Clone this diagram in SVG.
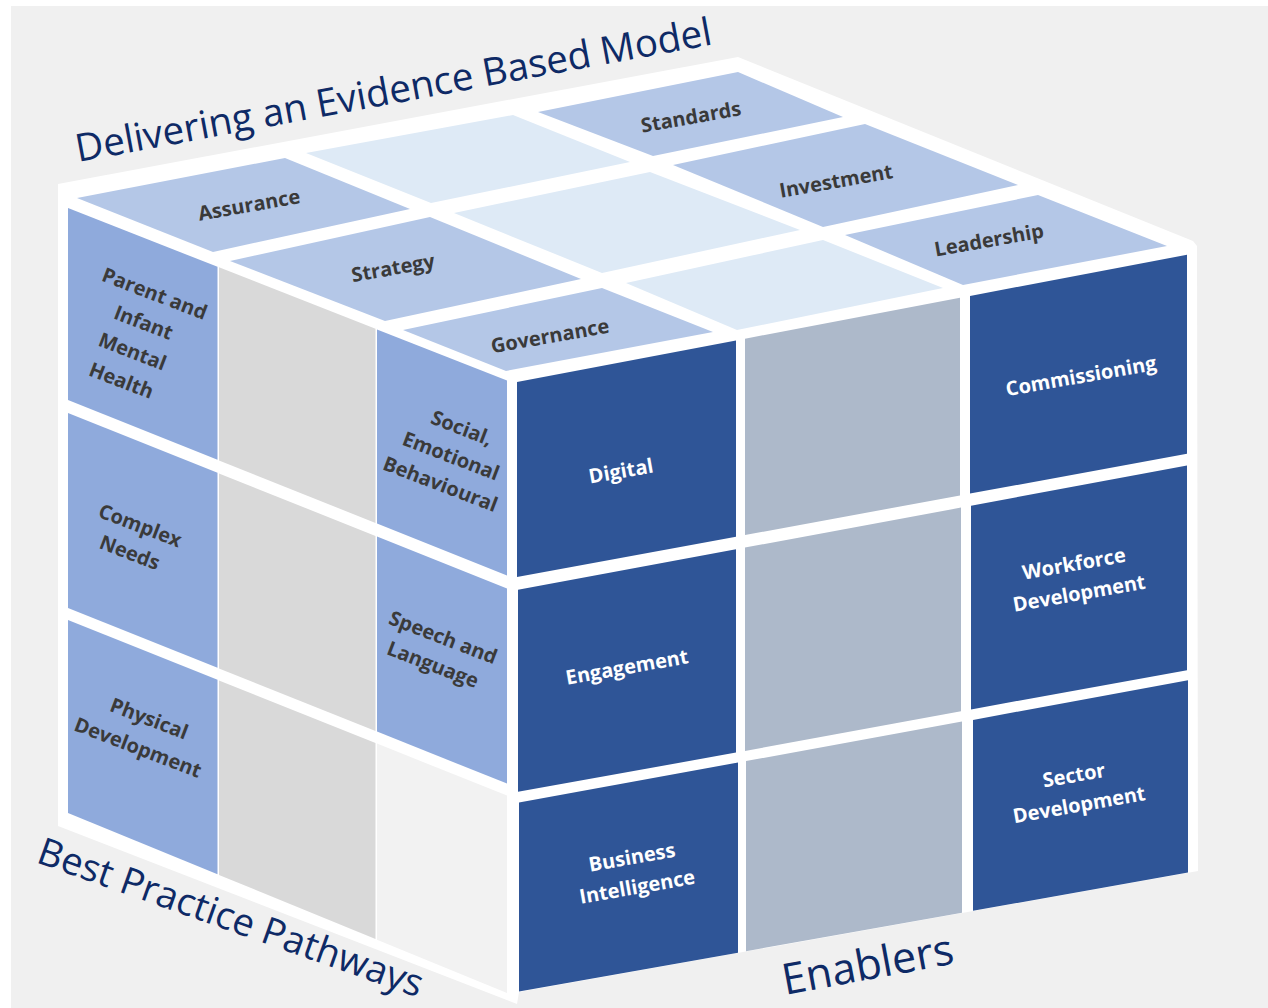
<svg xmlns="http://www.w3.org/2000/svg" width="1268" height="1008" viewBox="0 0 1268 1008">
<style>
.top{fill:#b4c7e7}
.topb{fill:#deeaf6}
.lb{fill:#8faadc}
.lg{fill:#d9d9d9}
.ll{fill:#f2f2f2}
.rd{fill:#2f5597}
.rg{fill:#adb9ca}
.dk{font-family:"Open Sans","Liberation Sans",sans-serif;font-weight:700;font-size:20px;fill:#3a3a3a;text-anchor:middle}
.wt{font-family:"Open Sans","Liberation Sans",sans-serif;font-weight:700;font-size:20px;fill:#ffffff;text-anchor:middle}
.ttl{font-family:"Open Sans","Liberation Sans",sans-serif;font-weight:400;fill:#0e2a66}
</style>
<rect x="0" y="0" width="1268" height="1008" fill="#ffffff"/>
<rect x="11" y="6" width="1257" height="1002" fill="#f0f0f0"/>

<polygon id="cube-outline" points="58,184 738,57 1193,241 1197,246 1198,871 519,992 517,1004 58,826" fill="#ffffff"/>

<!-- Top face -->
<g id="assurance"><polygon class="top" points="77,198 285,158 410,209 213,252"/><text class="dk" transform="translate(249,205) rotate(-10)" y="7">Assurance</text></g>
<g id="top-blank-1"><polygon class="topb" points="306,153 513,115 630,162 431,203"/></g>
<g id="standards"><polygon class="top" points="538,112 738,72 843,117 653,156"/><text class="dk" transform="translate(691,117) rotate(-10)" y="7">Standards</text></g>
<g id="strategy"><polygon class="top" points="230,261 430,217 581,279 385,321"/><text class="dk" transform="translate(393,268) rotate(-10)" y="7">Strategy</text></g>
<g id="top-blank-2"><polygon class="topb" points="454,213 650,172 800,230 602,273"/></g>
<g id="investment"><polygon class="top" points="673,165 865,124 1018,185 823,227"/><text class="dk" transform="translate(836,181) rotate(-10)" y="7">Investment</text></g>
<g id="governance"><polygon class="top" points="403,330 602,288 713,332 506,371"/><text class="dk" transform="translate(550,336) rotate(-10)" y="7">Governance</text></g>
<g id="top-blank-3"><polygon class="topb" points="626,283 823,240 943,288 737,330"/></g>
<g id="leadership"><polygon class="top" points="845,235 1038,195 1167,246 963,285"/><text class="dk" transform="translate(989,240) rotate(-10)" y="7">Leadership</text></g>

<!-- Left face -->
<g id="parent-infant"><polygon class="lb" points="68,208 217.5,266.8 217.5,459.8 68,400"/><text class="dk" transform="translate(138,337) rotate(21)"><tspan x="0" y="-39.5">Parent and</tspan><tspan x="0" y="-8.5">Infant</tspan><tspan x="0" y="22.5">Mental</tspan><tspan x="0" y="53.5">Health</tspan></text></g>
<g id="complex-needs"><polygon class="lb" points="68,413 217.5,472.8 217.5,667.8 68,608"/><text class="dk" transform="translate(135,539) rotate(21)"><tspan x="0" y="-7.5">Complex</tspan><tspan x="0" y="21.5">Needs</tspan></text></g>
<g id="physical-development"><polygon class="lb" points="68,620 217.5,679.8 217.5,874.3 68,813"/><text class="dk" transform="translate(143.5,733) rotate(21)"><tspan x="0" y="-8.5">Physical</tspan><tspan x="0" y="22.5">Development</tspan></text></g>
<g id="left-mid-1"><polygon class="lg" points="219,267.3 375.5,328.8 375.5,523 219,460.4"/></g>
<g id="left-mid-2"><polygon class="lg" points="219,473.4 375.5,536 375.5,731 219,668.4"/></g>
<g id="left-mid-3"><polygon class="lg" points="219,680.4 375.5,743 375.5,939.1 219,874.9"/></g>
<g id="social-emotional"><polygon class="lb" points="377,329.4 507,380.5 507,575.6 377,523.6"/><text class="dk" transform="translate(451,456) rotate(21)"><tspan x="0" y="-23">Social,</tspan><tspan x="0" y="7">Emotional</tspan><tspan x="0" y="37">Behavioural</tspan></text></g>
<g id="speech-language"><polygon class="lb" points="377,536.6 507,588.6 507,783.6 377,731.6"/><text class="dk" transform="translate(438,651) rotate(21)"><tspan x="0" y="-7.5">Speech and</tspan><tspan x="0" y="21.5">Language</tspan></text></g>
<g id="left-blank"><polygon class="ll" points="377,743.6 507,795.6 507,993 377,939.7"/></g>

<!-- Right face -->
<g id="digital"><polygon class="rd" points="517,382 736,340.4 736,536.7 517,577"/><text class="wt" transform="translate(621,471) rotate(-10)" y="7">Digital</text></g>
<g id="right-mid-1"><polygon class="rg" points="745,338.7 960,297.8 960,495.5 745,535"/></g>
<g id="commissioning"><polygon class="rd" points="970,295.9 1187,254.7 1187,453.7 970,493.6"/><text class="wt" transform="translate(1081,376) rotate(-10)" y="7">Commissioning</text></g>
<g id="engagement"><polygon class="rd" points="518,589.8 736,549.3 736,752.6 518,791.8"/><text class="wt" transform="translate(627,667) rotate(-10)" y="7">Engagement</text></g>
<g id="right-mid-2"><polygon class="rg" points="745,547.6 961,507.6 961,711.2 745,751"/></g>
<g id="workforce-development"><polygon class="rd" points="971,505.7 1187,465.4 1187,670.2 971,709.4"/><text class="wt" transform="translate(1076.5,578.5) rotate(-10)"><tspan x="0" y="-8">Workforce</tspan><tspan x="0" y="22">Development</tspan></text></g>
<g id="business-intelligence"><polygon class="rd" points="519,802.6 738,762.6 738,952.7 519,991.6"/><text class="wt" transform="translate(634.5,872) rotate(-10)"><tspan x="0" y="-8">Business</tspan><tspan x="0" y="22">Intelligence</tspan></text></g>
<g id="right-mid-3"><polygon class="rg" points="746,761.1 962,721.6 962,912.8 746,951.2"/></g>
<g id="sector-development"><polygon class="rd" points="973,719.9 1188,680.2 1188,872.6 973,910.8"/><text class="wt" transform="translate(1076.5,790) rotate(-10)"><tspan x="0" y="-8">Sector</tspan><tspan x="0" y="22">Development</tspan></text></g>

<!-- Axis titles -->
<g id="title-model"><text class="ttl" font-size="38.5" transform="translate(78,162) rotate(-10.5)">Delivering an Evidence Based Model</text></g>
<g id="title-pathways"><text class="ttl" font-size="38" transform="translate(35,862) rotate(19.5)">Best Practice Pathways</text></g>
<g id="title-enablers"><text class="ttl" font-size="43" transform="translate(785,995) rotate(-10.5)">Enablers</text></g>
</svg>
